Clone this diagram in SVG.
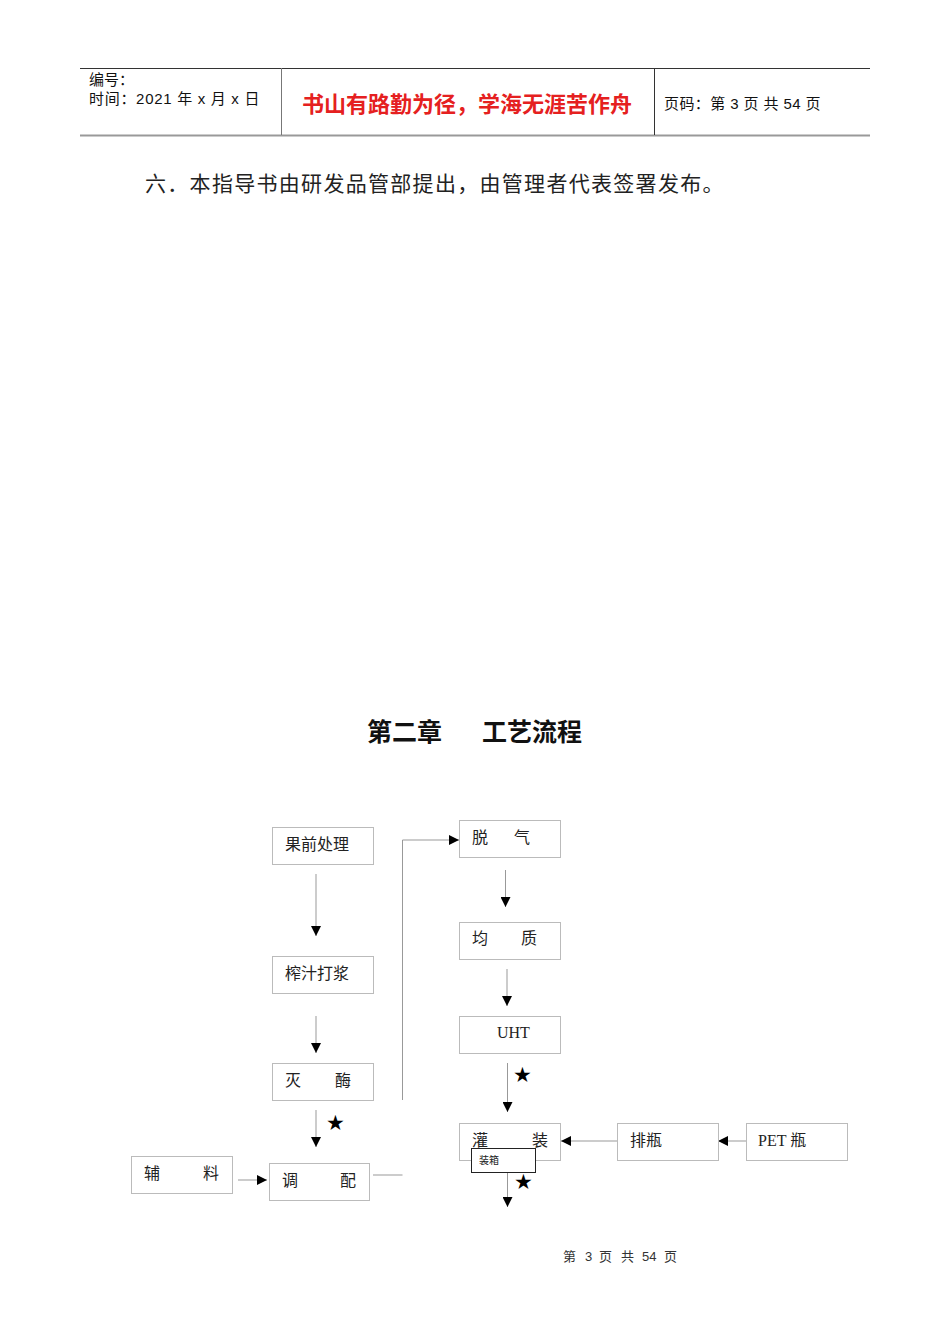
<svg xmlns="http://www.w3.org/2000/svg" width="950" height="1344" viewBox="0 0 950 1344">
<style>
.hd{font-family:"Liberation Sans","Noto Sans CJK SC",sans-serif;font-size:15px;fill:#111}
.bd{font-family:"Liberation Serif","Noto Sans CJK SC",serif;font-size:21px;fill:#222}
.t{font-family:"Liberation Serif","Noto Sans CJK SC",serif;font-size:16px;fill:#222}
.box{fill:#fff;stroke:#bbb;stroke-width:1}
.ln{fill:none;stroke:#999;stroke-width:1}
.star{font-family:"DejaVu Sans",sans-serif;font-size:21px;fill:#000}
.ft{font-family:"Liberation Sans","Noto Sans CJK SC",sans-serif;font-size:13px;fill:#333}
</style>
<defs>
<marker id="ah" viewBox="0 0 10 10" refX="10" refY="5" markerWidth="10" markerHeight="10" markerUnits="userSpaceOnUse" orient="auto">
<path d="M0,0 L10,5 L0,10 z" fill="#000"/>
</marker>
</defs>
<rect width="950" height="1344" fill="#fff"/>
<g id="header">
<line x1="80" y1="68.5" x2="870" y2="68.5" stroke="#333" stroke-width="1"/>
<line x1="80" y1="135.5" x2="870" y2="135.5" stroke="#999" stroke-width="2"/>
<line x1="281.5" y1="68" x2="281.5" y2="135" stroke="#777" stroke-width="1"/>
<line x1="654.5" y1="68" x2="654.5" y2="135" stroke="#333" stroke-width="1"/>
<text class="hd" x="89" y="85">编号：</text>
<text class="hd" x="89" y="104" letter-spacing="0.7">时间：2021 年 x 月 x 日</text>
<text x="302" y="112" font-family="Noto Sans CJK SC,sans-serif" font-size="22" font-weight="bold" fill="#e52020">书山有路勤为径，学海无涯苦作舟</text>
<text class="hd" x="664" y="109" letter-spacing="0.4">页码：第 3 页  共 54 页</text>
</g>
<text class="bd" x="145" y="191" letter-spacing="1.3">六．本指导书由研发品管部提出，由管理者代表签署发布。</text>
<g id="title" font-family="Noto Sans CJK SC,sans-serif" font-size="25" font-weight="bold" fill="#111">
<text x="367" y="741">第二章</text>
<text x="482" y="741">工艺流程</text>
</g>
<g id="connectors">
<line class="ln" x1="316" y1="874" x2="316" y2="936" marker-end="url(#ah)"/>
<line class="ln" x1="316" y1="1016" x2="316" y2="1053" marker-end="url(#ah)"/>
<line class="ln" x1="316" y1="1110" x2="316" y2="1147" marker-end="url(#ah)"/>
<line class="ln" x1="238" y1="1180" x2="267" y2="1180" marker-end="url(#ah)"/>
<polyline class="ln" points="373,1175 402.5,1175"/>
<polyline class="ln" points="402.5,1100 402.5,840 459,840" marker-end="url(#ah)"/>
<line class="ln" x1="505.5" y1="870" x2="505.5" y2="907" marker-end="url(#ah)"/>
<line class="ln" x1="507" y1="969" x2="507" y2="1006" marker-end="url(#ah)"/>
<line class="ln" x1="507.5" y1="1063" x2="507.5" y2="1112" marker-end="url(#ah)"/>
<line class="ln" x1="617" y1="1141" x2="561" y2="1141" marker-end="url(#ah)"/>
<line class="ln" x1="746" y1="1141" x2="718" y2="1141" marker-end="url(#ah)"/>
<line class="ln" x1="507.5" y1="1172" x2="507.5" y2="1207" marker-end="url(#ah)"/>
<text class="star" x="326" y="1130">★</text>
<text class="star" x="513" y="1082">★</text>
<text class="star" x="514" y="1189">★</text>
</g>
<g id="n1"><rect class="box" x="272.5" y="827.5" width="101" height="37"/><text class="t" x="285" y="850">果前处理</text></g>
<g id="n2"><rect class="box" x="272.5" y="956.5" width="101" height="37"/><text class="t" x="285" y="979">榨汁打浆</text></g>
<g id="n3"><rect class="box" x="272.5" y="1063.5" width="101" height="37"/><text class="t" x="285" y="1086">灭</text><text class="t" x="335" y="1086">酶</text></g>
<g id="n4"><rect class="box" x="131.5" y="1156.5" width="101" height="37"/><text class="t" x="144" y="1179">辅</text><text class="t" x="203" y="1179">料</text></g>
<g id="n5"><rect class="box" x="269.5" y="1163.5" width="100" height="37"/><text class="t" x="282" y="1186">调</text><text class="t" x="340" y="1186">配</text></g>
<g id="n6"><rect class="box" x="459.5" y="820.5" width="101" height="37"/><text class="t" x="472" y="843">脱</text><text class="t" x="514" y="843">气</text></g>
<g id="n7"><rect class="box" x="459.5" y="922.5" width="101" height="37"/><text class="t" x="472" y="944">均</text><text class="t" x="521" y="944">质</text></g>
<g id="n8"><rect class="box" x="459.5" y="1016.5" width="101" height="37"/><text class="t" x="497" y="1038">UHT</text></g>
<g id="n9"><rect class="box" x="459.5" y="1123.5" width="101" height="37"/><text class="t" x="472" y="1146">灌</text><text class="t" x="532" y="1146">装</text></g>
<g id="n10"><rect x="471.5" y="1148.5" width="64" height="24" fill="#fff" stroke="#222" stroke-width="1"/><text x="479" y="1164" font-family="Liberation Serif,Noto Sans CJK SC,serif" font-size="10" fill="#222">装箱</text></g>
<g id="n11"><rect class="box" x="617.5" y="1123.5" width="101" height="37"/><text class="t" x="630" y="1146">排瓶</text></g>
<g id="n12"><rect class="box" x="746.5" y="1123.5" width="101" height="37"/><text class="t" x="758" y="1146">PET 瓶</text></g>
<g id="footer">
<text class="ft" x="563" y="1261">第</text>
<text class="ft" x="585" y="1261">3</text>
<text class="ft" x="599" y="1261">页</text>
<text class="ft" x="621" y="1261">共</text>
<text class="ft" x="642" y="1261">54</text>
<text class="ft" x="664" y="1261">页</text>
</g>
</svg>
